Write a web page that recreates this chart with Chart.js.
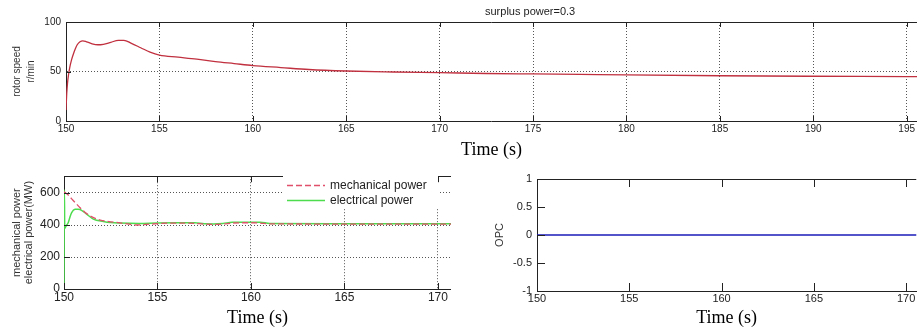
<!DOCTYPE html>
<html>
<head>
<meta charset="utf-8">
<script src="https://cdn.jsdelivr.net/npm/chart.js@4.4.1/dist/chart.umd.min.js"></script>
<style>
  html, body { margin: 0; padding: 0; background: #fff; overflow: hidden; width: 917px; height: 336px; }
  .box { position: absolute; }
  #title { position: absolute; left: 485px; top: 5px; font: 11px/12px 'Liberation Sans', Arial, sans-serif; color: #222; white-space: nowrap; }
</style>
</head>
<body>
<div class="box" style="left:0;top:0;width:917px;height:165px"><canvas id="speed" width="917" height="165"></canvas></div>
<div class="box" style="left:0;top:165px;width:451px;height:171px"><canvas id="power" width="451" height="171"></canvas></div>
<div class="box" style="left:460px;top:165px;width:457px;height:171px"><canvas id="opc" width="457" height="171"></canvas></div>
<div id="title">surplus power=0.3</div>
<script>
Chart.defaults.font.family = "'Liberation Sans', Arial, sans-serif";
Chart.defaults.color = '#222';
Chart.defaults.animation = false;

// rotor speed (r/min) against time (s)
const SPEED_T = [150, 150.02, 150.04, 150.08, 150.13, 150.2, 150.3, 150.4, 150.5, 150.6, 150.75, 150.9,
  151.1, 151.4, 151.7, 152.0, 152.4, 152.8, 153.1, 153.5, 154.0, 154.5, 155, 156, 157, 158, 159, 160,
  161.5, 163, 165, 167.5, 170, 172.5, 175, 177.5, 180, 185, 190, 195, 196];
const SPEED = [11, 20, 28, 38, 46, 54, 62, 68, 73, 77, 80, 81,
  80, 78, 77, 77.5, 79.5, 81.5, 81.5, 78.5, 74, 69.5, 66.5, 64.5, 62.5, 60, 58, 56,
  54, 52, 50.5, 49.5, 48.8, 48, 47.5, 47, 46.5, 45.7, 45.2, 44.8, 44.7];

// mechanical power (MW)
const MECH_T = [150, 150.2, 150.4, 150.6, 150.86, 151.1, 151.4, 151.7, 151.94, 152.4, 152.8, 153.3, 153.9,
  154.4, 155, 155.5, 156, 156.5, 157, 157.5, 158, 158.5, 159, 159.5, 160, 160.5, 161, 165, 171];
const MECH = [607, 590, 565, 540, 508, 482, 457, 440, 431, 421, 416, 408, 400,
  404, 408, 412, 412, 412, 410, 406, 404, 406, 412, 414, 414, 412, 407, 406, 406];

// electrical power (MW)
const ELEC_T = [150, 150.02, 150.04, 150.1, 150.23, 150.32, 150.41, 150.59, 150.75, 150.86, 151.21, 151.57,
  152.1, 152.5, 153, 154, 155, 156, 157, 157.5, 158, 158.5, 159, 160, 160.5, 161, 165, 171];
const ELEC = [0, 620, 380, 392, 416, 450, 477, 498, 499, 497, 468, 437,
  422, 415, 412, 410, 413, 414, 414, 408, 407, 410, 417, 417, 417, 410, 408, 408];

// OPC signal
const OPC_T = [150, 155, 160, 165, 170, 171];
const OPC = [0, 0, 0, 0, 0, 0];

const pts = (xs, ys) => xs.map((x, i) => ({ x, y: ys[i] }));
const SERIF = "'Liberation Serif', 'Times New Roman', serif";

// matlab style box: solid top edge + inward tick marks
const frame = {
  id: 'frame',
  afterDraw(chart, args, o) {
    const { ctx, chartArea: a, scales: { x, y } } = chart;
    const len = o.tickLen;
    ctx.save();
    ctx.strokeStyle = '#222';
    ctx.lineWidth = 1;
    ctx.setLineDash([]);
    ctx.beginPath();
    const top = Math.round(a.top) + 0.5;
    ctx.moveTo(a.left, top); ctx.lineTo(a.right, top);
    x.ticks.forEach(t => {
      const px = Math.round(x.getPixelForValue(t.value)) + 0.5;
      ctx.moveTo(px, a.bottom); ctx.lineTo(px, a.bottom - len);
      ctx.moveTo(px, a.top); ctx.lineTo(px, a.top + len);
    });
    y.ticks.forEach(t => {
      const py = Math.round(y.getPixelForValue(t.value)) + 0.5;
      ctx.moveTo(a.left, py); ctx.lineTo(a.left + len, py);
    });
    ctx.stroke();
    ctx.restore();
  }
};

// white legend box in the upper right of the plot
const legendBox = {
  id: 'legendBox',
  afterDraw(chart, args, o) {
    const { ctx, chartArea: a } = chart;
    const left = a.right - o.fromRight, top = a.top - o.above;
    ctx.save();
    ctx.fillStyle = '#fff';
    ctx.fillRect(left, top, o.width, o.height);
    ctx.font = o.font;
    ctx.textBaseline = 'middle';
    chart.data.datasets.forEach((ds, i) => {
      const yy = Math.round(top + o.rowTop + i * o.rowGap) + 0.5;
      ctx.strokeStyle = ds.borderColor;
      ctx.lineWidth = ds.borderWidth;
      ctx.setLineDash(ds.borderDash || []);
      ctx.beginPath(); ctx.moveTo(left + 4, yy); ctx.lineTo(left + 42, yy); ctx.stroke();
      ctx.fillStyle = '#222';
      ctx.fillText(ds.label, left + 47, yy);
    });
    ctx.restore();
  }
};

const plain = v => String(Math.round(v * 100) / 100);   // matlab labels: 1, 0.5, -1 (no "1.0")

function axes(o) {
  const grid = { display: o.grid, color: '#555', lineWidth: 1, drawTicks: false };
  return {
    x: {
      type: 'linear', min: 150, max: o.xMax,
      ticks: { stepSize: 5, includeBounds: false, autoSkip: false, maxRotation: 0, padding: o.xPad, font: { size: o.font }, callback: plain },
      grid, border: { color: '#222', dash: [1, 2] },
      title: { display: true, text: 'Time (s)', color: '#000', font: { family: SERIF, size: 18 }, padding: { top: 0, bottom: o.tPad } },
      afterFit: s => { s.height = o.xH; },
    },
    y: {
      min: o.yMin, max: o.yMax,
      ticks: { stepSize: o.yStep, includeBounds: false, padding: o.yPad, font: { size: o.font }, callback: plain },
      grid, border: { color: '#222', dash: [1, 2] },
      title: { display: true, text: o.yTitle, color: '#333', font: { size: o.yFont, lineHeight: o.yLH }, padding: { top: o.yTPad, bottom: 0 } },
      afterFit: s => { s.width = o.yW; },
    },
  };
}

const line = (label, xs, ys, color, width, dash) => ({
  label, data: pts(xs, ys), borderColor: color, borderWidth: width, borderDash: dash,
  pointRadius: 0, fill: false, cubicInterpolationMode: 'monotone',
});

new Chart(document.getElementById('speed'), {
  type: 'line',
  data: { datasets: [line('rotor speed', SPEED_T, SPEED, '#c0303f', 1.3)] },
  options: {
    responsive: false, animation: false,
    layout: { padding: { top: 22, left: 0, right: 0, bottom: 0 } },
    plugins: { legend: { display: false }, tooltip: { enabled: false }, frame: { tickLen: 5 } },
    scales: axes({ grid: true, xMax: 195.55, xPad: 2, font: 10, tPad: 4, xH: 44,
      yMin: 0, yMax: 100, yStep: 50, yPad: 5, yTitle: ['rotor speed', 'r/min'], yFont: 10, yLH: '13.5px', yTPad: 10.75, yW: 66 }),
  },
  plugins: [frame],
});

new Chart(document.getElementById('power'), {
  type: 'line',
  data: { datasets: [
    line('mechanical power', MECH_T, MECH, '#e0506a', 1.3, [6, 3]),
    line('electrical power', ELEC_T, ELEC, '#4ddc4d', 1.5),
  ] },
  options: {
    responsive: false, animation: false,
    layout: { padding: { top: 10, left: 0, right: 0, bottom: 0 } },
    plugins: { legend: { display: false }, tooltip: { enabled: false }, frame: { tickLen: 6 },
      legendBox: { fromRight: 168, above: 4, width: 155, height: 36, rowTop: 13, rowGap: 14.5, font: "12px 'Liberation Sans', Arial, sans-serif" } },
    scales: axes({ grid: true, xMax: 170.7, xPad: 1.6, font: 12, tPad: 7, xH: 47,
      yMin: 0, yMax: 705, yStep: 200, yPad: 4, yTitle: ['mechanical power', 'electrical power(MW)'], yFont: 11, yLH: '12px', yTPad: 11, yW: 64 }),
  },
  plugins: [frame, legendBox],
});

new Chart(document.getElementById('opc'), {
  type: 'line',
  data: { datasets: [line('OPC', OPC_T, OPC, '#1a1ab8', 1.3)] },
  options: {
    responsive: false, animation: false,
    layout: { padding: { top: 14, left: 0, right: 0, bottom: 0 } },
    plugins: { legend: { display: false }, tooltip: { enabled: false }, frame: { tickLen: 8 } },
    scales: axes({ grid: false, xMax: 170.55, xPad: 1.7, font: 11, tPad: 7, xH: 45,
      yMin: -1, yMax: 1, yStep: 0.5, yPad: 5, yTitle: 'OPC', yFont: 11, yLH: 1.2, yTPad: 33.4, yW: 77 }),
  },
  plugins: [frame],
});
</script>
</body>
</html>
